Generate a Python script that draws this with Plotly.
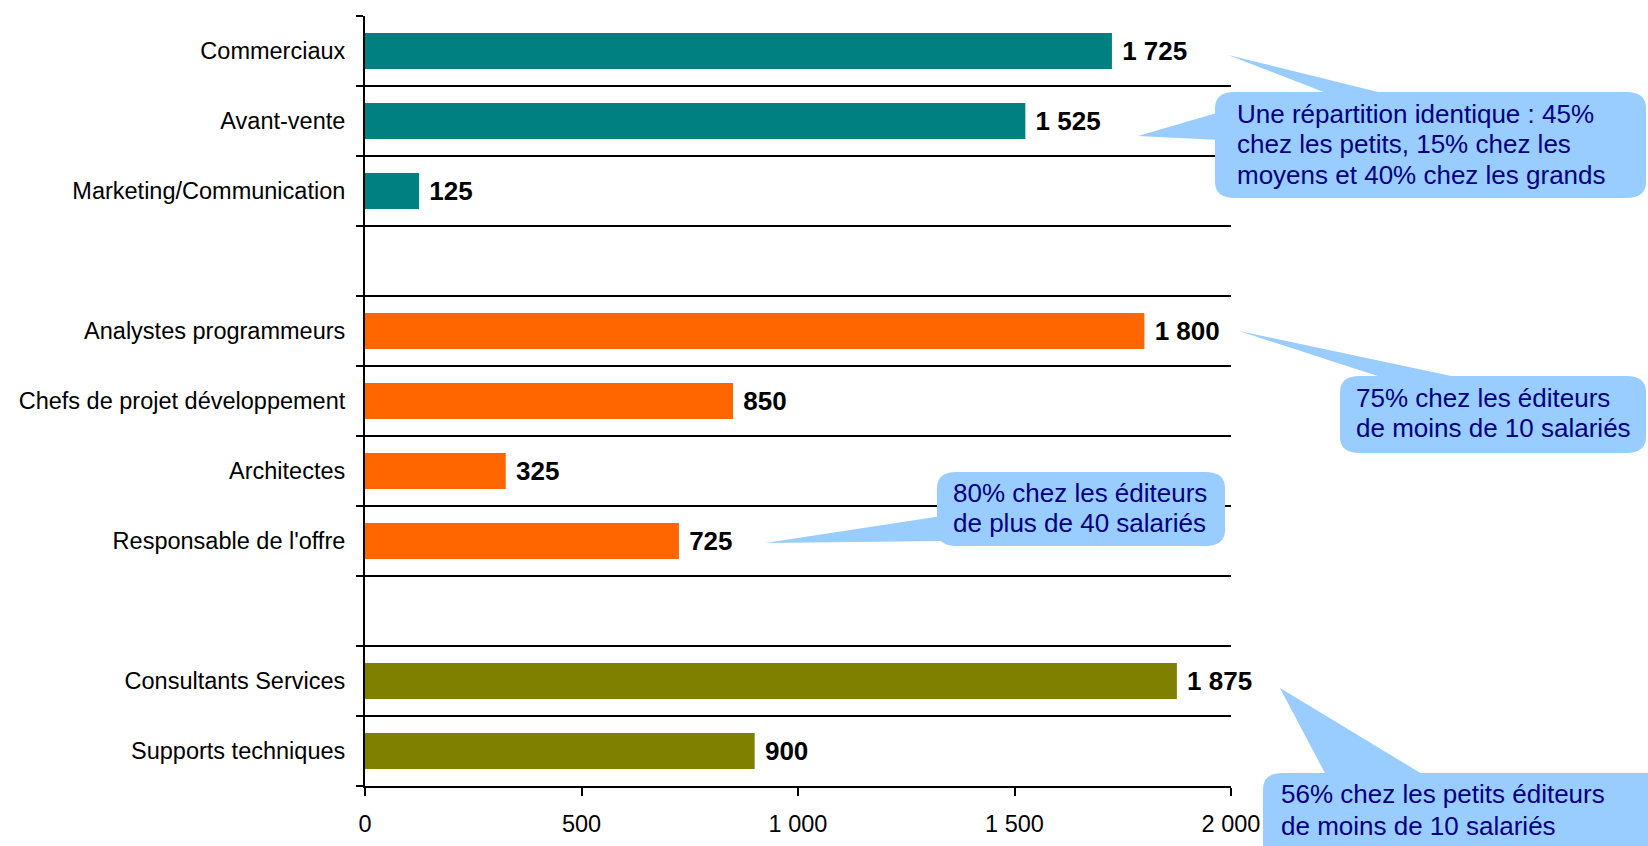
import plotly.graph_objects as go

# ---------------- data ----------------
categories = ["Commerciaux", "Avant-vente", "Marketing/Communication", "",
              "Analystes programmeurs", "Chefs de projet développement", "Architectes",
              "Responsable de l'offre", " ",
              "Consultants Services", "Supports techniques"]

vente_names = ["Commerciaux", "Avant-vente", "Marketing/Communication"]
vente_values = [1725, 1525, 125]

dev_names = ["Analystes programmeurs", "Chefs de projet développement", "Architectes",
             "Responsable de l'offre"]
dev_values = [1800, 850, 325, 725]

serv_names = ["Consultants Services", "Supports techniques"]
serv_values = [1875, 900]

x_ticks = [0, 500, 1000, 1500, 2000]

callout_texts = [
    ["Une répartition identique : 45%", "chez les petits, 15% chez les", "moyens et 40% chez les grands"],
    ["75% chez les éditeurs", "de moins de 10 salariés"],
    ["80% chez les éditeurs", "de plus de 40 salariés"],
    ["56% chez les petits éditeurs", "de moins de 10 salariés"],
]

# ---------------- style ----------------
FONT = "Liberation Sans, Arial, sans-serif"
W, H = 1648, 846
L, R, T, B = 365, 1231, 16, 786


def fmt(v):
    return f"{v:,}".replace(",", " ")


def px(x):
    return (x - L) / (R - L)


def py(y):
    return (B - y) / (B - T)


def pt(x, y):
    return f"{px(x):.5f},{py(y):.5f}"


def rbox(x0, y0, x1, y1, rx=20, ry=16):
    return (f"M {pt(x0 + rx, y0)} L {pt(x1 - rx, y0)} Q {pt(x1, y0)} {pt(x1, y0 + ry)} "
            f"L {pt(x1, y1 - ry)} Q {pt(x1, y1)} {pt(x1 - rx, y1)} "
            f"L {pt(x0 + rx, y1)} Q {pt(x0, y1)} {pt(x0, y1 - ry)} "
            f"L {pt(x0, y0 + ry)} Q {pt(x0, y0)} {pt(x0 + rx, y0)} Z")


def tri(a, b, c):
    return f"M {pt(*a)} L {pt(*b)} L {pt(*c)} Z"


fig = go.Figure()

groups = [(vente_names, vente_values, "#008080"),
          (dev_names, dev_values, "#FF6600"),
          (serv_names, serv_values, "#808000")]
for names, vals, col in groups:
    fig.add_trace(go.Bar(
        x=vals,
        y=[categories.index(n) for n in names],
        orientation="h",
        width=0.515,
        marker=dict(color=col, line=dict(width=0)),
        text=["\u00a0" + fmt(v) for v in vals],
        textposition="outside",
        constraintext="none",
        cliponaxis=False,
        textfont=dict(family=FONT, size=26, color="black", weight="bold"),
        hoverinfo="skip",
    ))

shapes = []
annotations = []
fill = "#99CCFF"
txtcol = "#000080"

# callout boxes (pixel geometry -> paper coords); ty = text baselines
boxes = [
    dict(box=(1215, 92, 1646, 198),
         tails=[((1228, 55), (1334, 96), (1394, 96)), ((1138, 136), (1220, 112), (1220, 140))],
         tx=1236, ty=[123, 153.5, 184]),
    dict(box=(1340, 376, 1646, 453),
         tails=[((1239, 331), (1390, 380), (1470, 380))],
         tx=1355, ty=[407, 437]),
    dict(box=(937, 472, 1225, 546),
         tails=[((765, 543), (942, 516), (942, 541))],
         tx=952, ty=[502, 532]),
    dict(box=(1263, 773, 1680, 880),
         tails=[((1280, 688), (1327, 777), (1427, 777))],
         tx=1280, ty=[803, 835]),
]

for i, b in enumerate(boxes):
    for t in b["tails"]:
        shapes.append(dict(type="path", xref="paper", yref="paper", path=tri(*t),
                           fillcolor=fill, line=dict(width=0), layer="above"))
    shapes.append(dict(type="path", xref="paper", yref="paper", path=rbox(*b["box"]),
                       fillcolor=fill, line=dict(width=0), layer="above"))
    for line, yy in zip(callout_texts[i], b["ty"]):
        annotations.append(dict(xref="paper", yref="paper", x=px(b["tx"]), y=py(yy - 9),
                                xanchor="left", yanchor="middle", showarrow=False,
                                borderpad=0,
                                text=line, font=dict(family=FONT, size=26, color=txtcol)))

fig.update_layout(
    width=W, height=H,
    margin=dict(l=L, r=W - R, t=T, b=H - B, pad=0, autoexpand=False),
    paper_bgcolor="white", plot_bgcolor="white",
    showlegend=False, barmode="overlay", hovermode=False,
    font=dict(family=FONT, color="black"),
    shapes=shapes, annotations=annotations,
    xaxis=dict(range=[0, 2000], tickmode="array", tickvals=x_ticks,
               ticktext=[fmt(v) for v in x_ticks], automargin=False,
               ticks="outside", ticklen=8, tickwidth=2, tickcolor="black",
               showline=True, linecolor="black", linewidth=2,
               showgrid=False, zeroline=False, ticklabelstandoff=8,
               tickfont=dict(family=FONT, size=23.5, color="black"), fixedrange=True),
    yaxis=dict(range=[10.5, -0.5], tickmode="array", tickvals=list(range(len(categories))),
               ticktext=categories, ticks="", showgrid=False, zeroline=False, automargin=False,
               showline=True, linecolor="black", linewidth=2, ticklabelstandoff=13,
               tickfont=dict(family=FONT, size=23.5, color="black"), fixedrange=True,
               minor=dict(tickmode="array", tickvals=[i - 0.5 for i in range(len(categories) + 1)],
                          ticks="outside", ticklen=7, tickwidth=2, tickcolor="black",
                          showgrid=True, gridcolor="black", gridwidth=2)),
)

fig.write_html("out.html", config={"displayModeBar": False},
               post_script="document.body.style.margin='0';document.body.style.overflow='hidden';")
